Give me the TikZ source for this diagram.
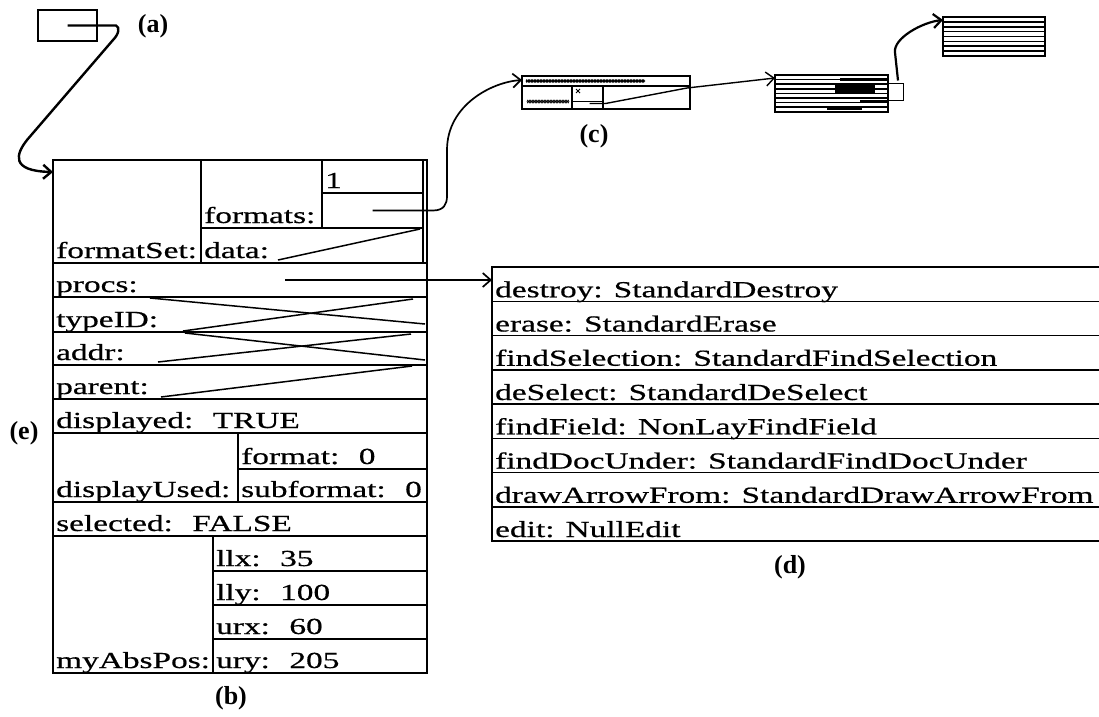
\documentclass[tikz,border=0pt]{standalone}
\usepackage{fontspec}
\setmainfont{Liberation Serif}
\newfontfamily\macfont[FakeStretch=1.45, FakeBold=0.6]{Liberation Serif}
\newfontfamily\tagfont{Liberation Serif}
\usetikzlibrary{positioning, arrows.meta, calc, decorations.pathmorphing}

\begin{document}
\begin{tikzpicture}[
  x=1pt, y=-1pt,
  fld/.style={draw, line width=1.5pt, anchor=north west,
              inner sep=0pt, outer sep=0pt},
  fldtxt/.style={anchor=base west, xshift=3pt, yshift=#1, inner sep=0pt,
                 font=\macfont\fontsize{23}{26}\selectfont},
  fldtxt/.default=5pt,
  drow/.style={fld, minimum width=612pt, minimum height=34.25pt},
  mini/.style={draw, line width=1.3pt, anchor=north west,
               inner sep=0pt, outer sep=0pt},
  parttag/.style={font=\tagfont\bfseries\fontsize{26}{30}\selectfont, inner sep=0pt},
  ptr/.style={-{Straight Barb[length=8pt, width=14pt]}, line width=1.7pt},
  wire/.style={line width=1.5pt},
  stripe/.style={line width=1.6pt},
  hatch/.style={line width=0.7pt, decorate,
                decoration={zigzag, segment length=3pt, amplitude=1.3pt}},
]
\useasboundingbox (0,0) rectangle (1099,716);

% pointer box (a)
\node[mini, minimum width=59pt, minimum height=31pt] (boxa) at (38,10) {};
\node[parttag] (tga) at (153,26) {(a)};

% object (b)
\node[fld, minimum width=374pt, minimum height=513pt] (objb) at (53,160) {};
\node[fld, minimum width=148pt, minimum height=103pt,
      label={[fldtxt]south west:{formatSet:}}] (fset) at (53,160) {};
\node[fld, minimum width=121pt, minimum height=68pt,
      label={[fldtxt]south west:{formats:}}] (fmts) at (201,160) {};
\node[fld, minimum width=101pt, minimum height=33pt,
      label={[fldtxt]south west:{1}}] (fone) at (322,160) {};
\node[fld, minimum width=101pt, minimum height=35pt] (fptr) at (322,193) {};
\node[fld, minimum width=222pt, minimum height=35pt,
      label={[fldtxt]south west:{data:}}] (fdata) at (201,228) {};
\node[fld, minimum width=374pt, minimum height=34pt,
      label={[fldtxt]south west:{procs:}}] (procs) at (53,263) {};
\node[fld, minimum width=374pt, minimum height=35pt,
      label={[fldtxt]south west:{typeID:}}] (typeid) at (53,297) {};
\node[fld, minimum width=374pt, minimum height=33pt,
      label={[fldtxt]south west:{addr:}}] (addr) at (53,332) {};
\node[fld, minimum width=374pt, minimum height=34pt,
      label={[fldtxt]south west:{parent:}}] (parent) at (53,365) {};
\node[fld, minimum width=374pt, minimum height=34pt,
      label={[fldtxt]south west:{displayed: \ TRUE}}] (displ) at (53,399) {};
\node[fld, minimum width=185pt, minimum height=69pt,
      label={[fldtxt]south west:{displayUsed:}}] (dused) at (53,433) {};
\node[fld, minimum width=189pt, minimum height=36pt,
      label={[fldtxt]south west:{format: \ 0}}] (fmt) at (238,433) {};
\node[fld, minimum width=189pt, minimum height=33pt,
      label={[fldtxt]south west:{subformat: \ 0}}] (subfmt) at (238,469) {};
\node[fld, minimum width=374pt, minimum height=34pt,
      label={[fldtxt]south west:{selected: \ FALSE}}] (selected) at (53,502) {};
\node[fld, minimum width=160pt, minimum height=137pt,
      label={[fldtxt]south west:{myAbsPos:}}] (abspos) at (53,536) {};
\node[fld, minimum width=214pt, minimum height=35pt,
      label={[fldtxt]south west:{llx: \ 35}}] (llx) at (213,536) {};
\node[fld, minimum width=214pt, minimum height=34pt,
      label={[fldtxt]south west:{lly: \ 100}}] (lly) at (213,571) {};
\node[fld, minimum width=214pt, minimum height=34pt,
      label={[fldtxt]south west:{urx: \ 60}}] (urx) at (213,605) {};
\node[fld, minimum width=214pt, minimum height=34pt,
      label={[fldtxt]south west:{ury: \ 205}}] (ury) at (213,639) {};
\node[parttag] (tge) at (24,433) {(e)};
\node[parttag] (tgb) at (231,698) {(b)};

% pointers that run out of the fields
\draw[wire] ($(fdata.south west)+(77,-3)$) -- ($(fdata.north east)+(-3,1)$);
\draw[wire] ($(typeid.north west)+(97,1)$) -- ($(typeid.south east)+(-2,-8)$);
\draw[wire] ($(typeid.south west)+(130,-1)$) -- ($(typeid.north east)+(-14,2)$);
\draw[wire] ($(addr.north west)+(132,1)$) -- ($(addr.south east)+(-2,-5)$);
\draw[wire] ($(addr.south west)+(105,-3)$) -- ($(addr.north east)+(-16,2)$);
\draw[wire] ($(parent.south west)+(108,-2)$) -- ($(parent.north east)+(-15,1)$);

% procs (d)
\node[drow, label={[fldtxt=4pt]south west:{destroy: StandardDestroy}}] (d1) at (492,267) {};
\node[drow, below=0pt of d1, label={[fldtxt=4pt]south west:{erase: StandardErase}}] (d2) {};
\node[drow, below=0pt of d2, label={[fldtxt=4pt]south west:{findSelection: StandardFindSelection}}] (d3) {};
\node[drow, below=0pt of d3, label={[fldtxt=4pt]south west:{deSelect: StandardDeSelect}}] (d4) {};
\node[drow, below=0pt of d4, label={[fldtxt=4pt]south west:{findField: NonLayFindField}}] (d5) {};
\node[drow, below=0pt of d5, label={[fldtxt=4pt]south west:{findDocUnder: StandardFindDocUnder}}] (d6) {};
\node[drow, below=0pt of d6, label={[fldtxt=4pt]south west:{drawArrowFrom: StandardDrawArrowFrom}}] (d7) {};
\node[drow, below=0pt of d7, label={[fldtxt=4pt]south west:{edit: NullEdit}}] (d8) {};
\node[parttag] (tgd) at (790,567) {(d)};

% format set (c)
\node[mini, minimum width=168pt, minimum height=33pt] (cfmt) at (522,76) {};
\node[mini, minimum width=50pt, minimum height=23pt] (cleft) at (522,86) {};
\node[mini, minimum width=31pt, minimum height=23pt] (cmid) at (572,86) {};
\node[mini, minimum width=87pt, minimum height=23pt] (cright) at (603,86) {};
\draw[line width=1pt] ($(cmid.west)+(0,3.5)$) -- ($(cmid.east)+(0,3.5)$);
\draw[line width=0.8pt] ($(cmid.north west)+(4,3)$) -- ++(4,4) ++(-4,0) -- ++(4,-4);
\draw[hatch] ($(cfmt.north west)+(4,5)$) -- ++(119,0);
\draw[hatch, decoration={mirror}] ($(cfmt.north west)+(4,5)$) -- ++(119,0);
\draw[hatch] ($(cleft.west)+(5,4)$) -- ++(42,0);
\draw[hatch, decoration={mirror}] ($(cleft.west)+(5,4)$) -- ++(42,0);
\node[parttag] (tgc) at (594,136) {(c)};

\node[mini, minimum width=113pt, minimum height=37pt] (c2) at (775,75) {};
\foreach \k in {1,...,7}
  \draw[stripe] ($(c2.north west)+(0,4.6*\k)$) -- ++(113,0);
\fill ($(c2.north west)+(65,3)$) rectangle ++(48,3);
\fill ($(c2.north west)+(60,9)$) rectangle ++(40,10);
\fill ($(c2.north west)+(85,25)$) rectangle ++(28,3);
\fill ($(c2.north west)+(52,32)$) rectangle ++(35,3);
\draw[line width=1pt] ($(c2.east)+(0,-10)$) -- ++(15,0) -- ++(0,17) -- ++(-15,0);

\node[mini, minimum width=102pt, minimum height=39pt] (c3) at (943,17) {};
\foreach \k in {1,...,7}
  \draw[stripe] ($(c3.north west)+(0,4.875*\k)$) -- ++(102,0);

% arrows
\draw[ptr, line width=2.4pt] (boxa.center) -- (116,25.5)
  .. controls (120,27) and (119,34) .. (113,40) -- (27,140)
  .. controls (16,154) and (10,171) .. ([yshift=-12pt]fset.north west);
\draw[ptr] (fptr.center) -- (433,210.5)
  .. controls (444,210.5) and (447,204) .. (447,196) -- (447,150)
  .. controls (447,105) and (492,82) .. ([yshift=-4pt]cfmt.north west);
\draw[ptr] ([xshift=45pt]procs.center) -- (procs.center -| d1.west);
\draw[ptr, line width=1.4pt] ($(cmid.center)+(2,6)$) -- ++(16,0)
  -- ($(cright.north east)+(-3,2)$) -- ([yshift=-3pt]c2.north west);
\draw[ptr, line width=2.2pt] ($(c2.east)+(10,-13)$) -- ++(-3,-28)
  .. controls (893,38) and (923,22) .. ([yshift=-3pt]c3.north west);
\end{tikzpicture}
\end{document}
